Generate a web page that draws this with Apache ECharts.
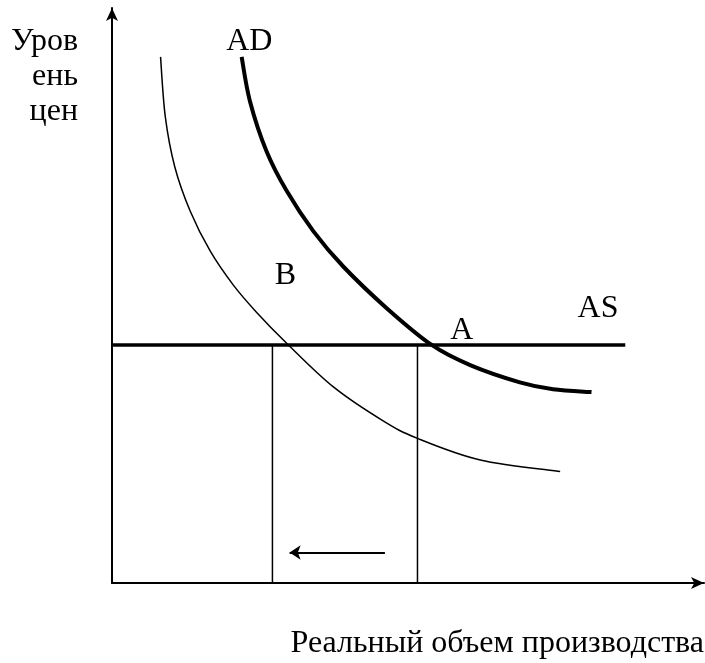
<!DOCTYPE html>
<html>
<head>
<meta charset="utf-8">
<script src="https://cdn.jsdelivr.net/npm/echarts@6/dist/echarts.min.js"></script>
<style>
  html, body { margin: 0; padding: 0; background: #fff; }
  #chart { width: 705px; height: 663px; }
</style>
</head>
<body>
<div id="chart"></div>
<script>
const adCurve = [[21.9, 91.5], [23.3, 83.8], [26.1, 75.1], [29.5, 68.2], [34.0, 61.2],
  [39.1, 55.0], [46.4, 47.8], [54.0, 41.4], [60.5, 37.9], [68.9, 34.9], [74.5, 33.7], [81.0, 33.2]];
const adShifted = [[8.2, 91.5], [9.0, 81.1], [10.6, 72.4], [13.2, 64.7], [16.6, 57.7],
  [20.5, 51.8], [24.4, 47.1], [29.5, 41.7], [37.4, 34.1], [45.8, 28.2], [51.5, 25.2],
  [62.2, 21.4], [75.7, 19.4]];
const asLine = [[0, 41.4], [86.7, 41.4]];
const dropB = [[27.1, 0], [27.1, 41.4]];
const dropA = [[51.6, 0], [51.6, 41.4]];
const shiftArrow = [[46.1, 5.3], [30.0, 5.3]];
const pointLabels = [
  { name: 'AD', value: [23.2, 94.2] },
  { name: 'B', value: [29.3, 53.4] },
  { name: 'A', value: [59.1, 43.9] },
  { name: 'AS', value: [82.1, 47.7] }
];
const yTitle = 'Уров\nень\nцен';
const xTitle = 'Реальный объем производства';

const FONT = '"Liberation Serif", "DejaVu Serif", serif';
const chart = echarts.init(document.getElementById('chart'));

function plain(data, width) {
  return {
    type: 'line',
    data: data,
    symbol: 'none',
    silent: true,
    lineStyle: { color: '#000', width: width }
  };
}

// smooth curve through the points (catmull-rom -> bezier, in pixel space)
function curve(points, width) {
  return {
    type: 'custom',
    silent: true,
    data: [0],
    renderItem: function (params, api) {
      const p = points.map(function (d) { return api.coord(d); });
      let path = 'M' + p[0][0] + ' ' + p[0][1];
      for (let i = 0; i < p.length - 1; i++) {
        const p0 = p[i - 1] || p[i];
        const p1 = p[i];
        const p2 = p[i + 1];
        const p3 = p[i + 2] || p2;
        const c1x = p1[0] + (p2[0] - p0[0]) / 6;
        const c1y = p1[1] + (p2[1] - p0[1]) / 6;
        const c2x = p2[0] - (p3[0] - p1[0]) / 6;
        const c2y = p2[1] - (p3[1] - p1[1]) / 6;
        path += ' C' + c1x + ' ' + c1y + ' ' + c2x + ' ' + c2y + ' ' + p2[0] + ' ' + p2[1];
      }
      return {
        type: 'path',
        shape: { pathData: path },
        style: { fill: 'none', stroke: '#000', lineWidth: width }
      };
    }
  };
}

const axisCommon = {
  type: 'value',
  min: 0,
  max: 100,
  axisLine: {
    show: true,
    symbol: ['none', 'arrow'],
    symbolSize: [9, 13],
    lineStyle: { color: '#000', width: 2 }
  },
  axisTick: { show: false },
  axisLabel: { show: false },
  splitLine: { show: false }
};

chart.setOption({
  animation: false,
  backgroundColor: '#fff',
  grid: { left: 112, right: 1, top: 8, bottom: 80 },
  xAxis: axisCommon,
  yAxis: axisCommon,
  graphic: [
    {
      type: 'text',
      style: {
        x: 78, y: 24, text: yTitle, align: 'right', verticalAlign: 'top',
        font: '32px ' + FONT, lineHeight: 35, fill: '#000'
      }
    },
    {
      type: 'text',
      style: {
        x: 704, y: 628, text: xTitle, align: 'right', verticalAlign: 'top',
        font: '32px ' + FONT, fill: '#000'
      }
    }
  ],
  series: [
    plain(asLine, 3.5),
    plain(dropB, 1.5),
    plain(dropA, 1.5),
    curve(adShifted, 1.5),
    curve(adCurve, 4),
    {
      type: 'lines',
      coordinateSystem: 'cartesian2d',
      silent: true,
      data: [{ coords: shiftArrow }],
      symbol: ['none', 'arrow'],
      symbolSize: 11,
      lineStyle: { color: '#000', width: 2, opacity: 1 }
    },
    {
      type: 'scatter',
      data: pointLabels,
      symbolSize: 0,
      silent: true,
      itemStyle: { opacity: 1 },
      label: {
        show: true,
        position: 'inside',
        formatter: '{b}',
        color: '#000',
        opacity: 1,
        fontFamily: FONT,
        fontSize: 32
      }
    }
  ]
});
</script>
</body>
</html>
